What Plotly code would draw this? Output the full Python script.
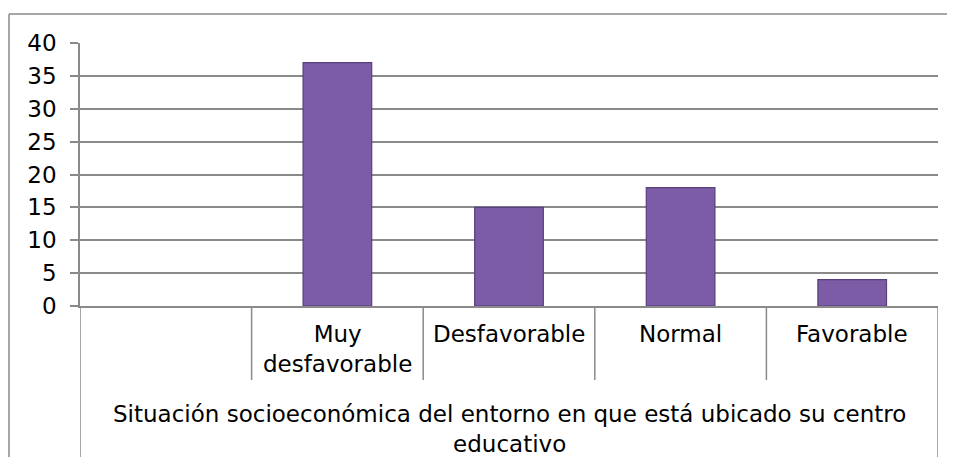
import plotly.graph_objects as go

# data
categories = ["", "Muy<br>desfavorable", "Desfavorable", "Normal", "Favorable"]
values = [None, 37, 15, 18, 4]
group_label = "Situación socioeconómica del entorno en que está ubicado su centro<br>educativo"
y_ticks = [0, 5, 10, 15, 20, 25, 30, 35, 40]

GRAY = "#8a8a8a"
FONT = "DejaVu Sans"
FS = 23

# page has an 8px body margin, so the figure sits 8px in from the window corner;
# keep the figure inside the window so no scrollbars appear
OFF = 8
W, H = 955 - 2 * OFF, 465 - 2 * OFF
# plot area in window pixels: x 80..938, y 43..306
L, R, T, B = 80 - OFF, (955 - OFF) - 938, 43 - OFF, (465 - OFF) - 306
ph = 306 - 43


def py(y):
    # window pixel row -> paper coordinate
    return (306 - y) / ph


x = list(range(len(categories)))

fig = go.Figure()
fig.add_trace(go.Bar(
    x=x, y=values, width=0.4,
    marker=dict(color="#7c5ca6", line=dict(color="#583f7e", width=1.2)),
    hoverinfo="y",
))

# category labels under each column
for i, cat in enumerate(categories):
    if cat:
        fig.add_annotation(x=i, y=py(319), xref="x", yref="paper", text=cat,
                           showarrow=False, yanchor="top", align="center",
                           font=dict(family=FONT, size=FS, color="black"))

# outer group label
fig.add_annotation(x=0.5, y=py(429), xref="paper", yref="paper", text=group_label,
                   showarrow=False, yanchor="middle", align="center",
                   font=dict(family=FONT, size=FS, color="black"))

# divider lines of the category axis
n = len(categories)
for k in range(n + 1):
    b = k - 0.5
    bottom = 458 if k in (0, n) else 380
    fig.add_shape(type="line", xref="x", yref="paper", x0=b, x1=b,
                  y0=py(306), y1=py(bottom), line=dict(color=GRAY, width=1.5))

# outer chart frame (open at the right and bottom, as in the cropped original)
fx = (9 - 80) / (938 - 80)
fig.add_shape(type="line", xref="paper", yref="paper",
              x0=fx, x1=1.1, y0=py(14), y1=py(14),
              line=dict(color=GRAY, width=1.5))
fig.add_shape(type="line", xref="paper", yref="paper",
              x0=fx, x1=fx, y0=py(14), y1=py(470),
              line=dict(color=GRAY, width=1.5))

fig.update_xaxes(range=[-0.5, n - 0.5], showticklabels=False, showgrid=False,
                 zeroline=False, showline=True, linecolor=GRAY, linewidth=1.5,
                 ticks="", fixedrange=True)
fig.update_yaxes(range=[0, 40], tickvals=y_ticks, showgrid=True, gridcolor=GRAY,
                 gridwidth=1.5, zeroline=False, showline=True, linecolor=GRAY,
                 linewidth=1.5, ticks="outside", ticklen=8, tickcolor=GRAY,
                 tickwidth=1.5, ticklabelstandoff=9,
                 tickfont=dict(family=FONT, size=FS, color="black"))

fig.update_layout(
    width=W, height=H,
    margin=dict(l=L, r=R, t=T, b=B),
    plot_bgcolor="white", paper_bgcolor="white",
    showlegend=False, bargap=0.6,
)

fig.write_html("out.html")
